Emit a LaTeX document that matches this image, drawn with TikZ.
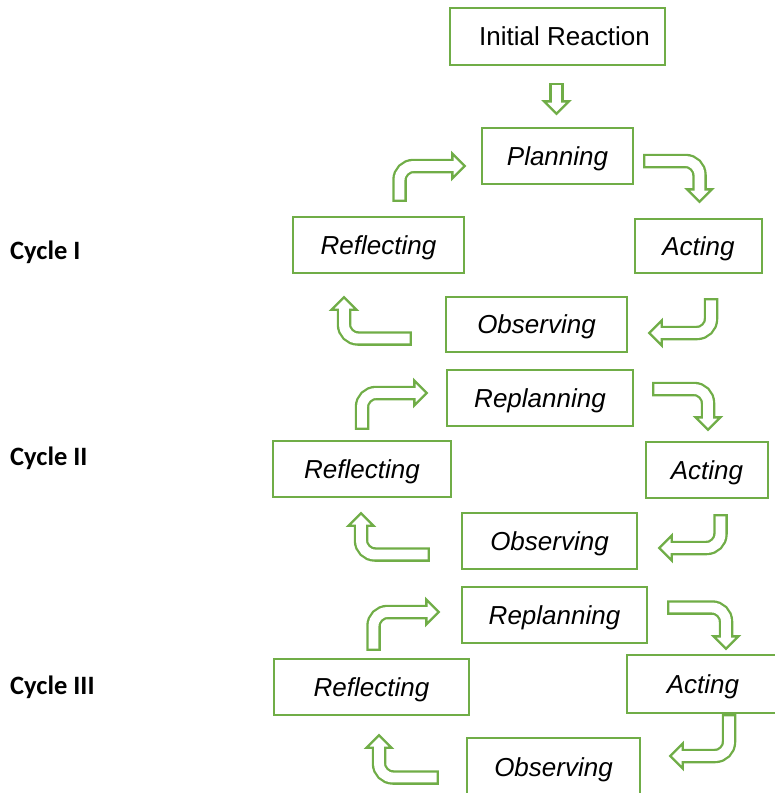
\documentclass[tikz,border=0pt]{standalone}
\usepackage{fontspec}
\setmainfont{Liberation Sans}
\newfontfamily\cyclefont{Carlito}
\usepackage{tikz}
\usetikzlibrary{calc}
\definecolor{leafgreen}{HTML}{70AD47}
\newlength{\headlen}\setlength{\headlen}{12.5pt}
\newlength{\headhalf}\setlength{\headhalf}{12.5pt}
% hollow block arrow: tail, path op, tip, angle of the head
\newcommand{\blockarrow}[4]{%
  \coordinate (tail) at #1;
  \coordinate (tip) at #3;
  \draw[leafgreen, line width=2.3pt, fill=white, shift={(tip)}, rotate=#4]
    (0pt,0pt) -- (-\headlen,\headhalf) -- (-\headlen,-\headhalf) -- cycle;
  \draw[leafgreen, line width=14.5pt, rounded corners=14pt, shorten >=\headlen] (tail) #2 (tip);
  \draw[white, line width=9.9pt, rounded corners=14pt, shorten <=2.3pt, shorten >=10pt] (tail) #2 (tip);
}

\begin{document}
\begin{tikzpicture}[x=1pt, y=-1pt,
    box/.style={draw=leafgreen, line width=2.3pt, fill=white, minimum height=56pt, inner sep=0pt,
      text depth=0pt, font=\fontsize{26}{30}\selectfont},
    stage/.style={box, font=\fontsize{26}{30}\selectfont\itshape},
    cycle label/.style={anchor=base west, inner sep=0pt, font=\cyclefont\bfseries\fontsize{26.5}{30}\selectfont}]
  \useasboundingbox (0,0) rectangle (775,793);
  \clip (0,0) rectangle (775,793);

  \node[box, minimum width=215pt, minimum height=57pt] (init) at (557.5,36.5) {\hspace{14pt}Initial Reaction};

  % cycle I
  \node[stage, minimum width=151pt] (plan1) at (557.5,156) {Planning};
  \node[stage, minimum width=171pt] (refl1) at (378.5,245) {Reflecting};
  \node[stage, minimum width=127pt, minimum height=54pt] (act1) at (698.5,246) {Acting};
  \node[stage, minimum width=181pt, minimum height=55pt] (obs1) at (536.5,324.5) {Observing};

  % cycle II
  \node[stage, minimum width=186pt] (plan2) at (540,398) {Replanning};
  \node[stage, minimum width=178pt] (refl2) at (362,469) {Reflecting};
  \node[stage, minimum width=122pt] (act2) at (707,470) {Acting};
  \node[stage, minimum width=175pt] (obs2) at (549.5,541) {Observing};

  % cycle III
  \node[stage, minimum width=185pt] (plan3) at (554.5,615) {Replanning};
  \node[stage, minimum width=195pt] (refl3) at (371.5,687) {Reflecting};
  \node[stage, minimum width=152pt, minimum height=58pt] (act3) at (703,684) {Acting};
  \node[stage, minimum width=173pt, minimum height=58pt] (obs3) at (553.5,767) {Observing};

  \node[cycle label] (c1) at (10,259) {Cycle I};
  \node[cycle label] (c2) at (10,465) {Cycle II};
  \node[cycle label] (c3) at (10,694) {Cycle III};

  \blockarrow{($(init.south)+(-1,17)$)}{--}{($(plan1.north)+(-1,-13)$)}{-90}

  \blockarrow{($(refl1.north)+(21,-14)$)}{|-}{($(plan1.west)+(-16,10)$)}{0}
  \blockarrow{($(plan1.east)+(9,5)$)}{-|}{($(act1.north)+(1,-16)$)}{-90}
  \blockarrow{($(act1.south)+(12.5,24)$)}{|-}{($(obs1.east)+(21,8.5)$)}{180}
  \blockarrow{($(obs1.west)+(-33,14)$)}{-|}{($(refl1.south)+(-34.5,23)$)}{90}

  \blockarrow{($(refl2.north)+(0,-10)$)}{|-}{($(plan2.west)+(-19,-5)$)}{0}
  \blockarrow{($(plan2.east)+(18,-9)$)}{-|}{($(act2.north)+(1,-11)$)}{-90}
  \blockarrow{($(act2.south)+(13.5,15)$)}{|-}{($(obs2.east)+(21,7)$)}{180}
  \blockarrow{($(obs2.west)+(-31,13.5)$)}{-|}{($(refl2.south)+(-1,15)$)}{90}

  \blockarrow{($(refl3.north)+(2,-7)$)}{|-}{($(plan3.west)+(-22,-3)$)}{0}
  \blockarrow{($(plan3.east)+(19,-7.5)$)}{-|}{($(act3.north)+(23,-5)$)}{-90}
  \blockarrow{($(act3.south)+(26,0)$)}{|-}{($(obs3.east)+(29,-11)$)}{180}
  \blockarrow{($(obs3.west)+(-27,10.5)$)}{-|}{($(refl3.south)+(7.5,19)$)}{90}
\end{tikzpicture}
\end{document}
